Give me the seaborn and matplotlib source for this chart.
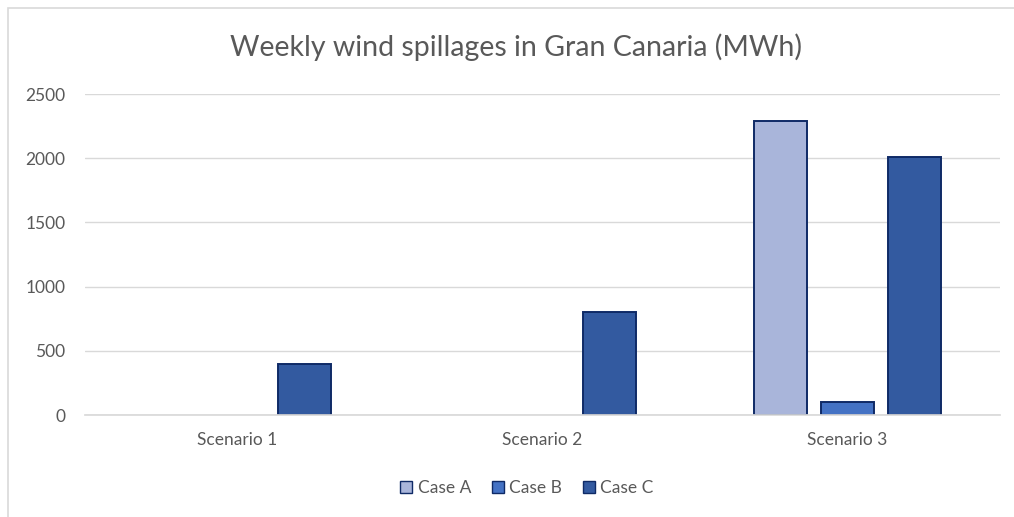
import matplotlib
matplotlib.use("Agg")
import matplotlib.pyplot as plt
import seaborn as sns
import pandas as pd
from matplotlib.patches import Rectangle

# values (MWh)
scenarios = ["Scenario 1", "Scenario 2", "Scenario 3"]
cases = ["Case A", "Case B", "Case C"]
case_a = [0, 0, 2290]
case_b = [0, 0, 100]
case_c = [400, 800, 2010]

colors = ["#A9B5DA", "#4472C4", "#335AA0"]
edge = "#0F2A66"
grey_text = "#595959"

df = pd.DataFrame({
    "scenario": scenarios * 3,
    "case": [c for c in cases for _ in scenarios],
    "value": case_a + case_b + case_c,
})

sns.set_theme(style="white")
plt.rcParams["font.family"] = ["Lato", "DejaVu Sans"]

fig = plt.figure(figsize=(10.14, 5.17), dpi=100)
ax = fig.add_axes([85 / 1014, 102 / 517, 915 / 1014, 321 / 517])

# light frame around the chart area
fig.patches.append(Rectangle((8 / 1014, -0.05), 1.2, 1 - 8 / 517 + 0.05,
                             transform=fig.transFigure, fill=False,
                             edgecolor="#D9D9D9", linewidth=1.2))

sns.barplot(data=df, x="scenario", y="value", hue="case", hue_order=cases,
            palette=colors, saturation=1, width=0.66, gap=0.21,
            edgecolor=edge, linewidth=1.4, ax=ax, legend=False)

# zero-height bars leave no outline in the original
for p in ax.patches:
    if p.get_height() == 0:
        p.set_linewidth(0)

ax.set_ylim(0, 2500)
ax.set_yticks(range(0, 2501, 500))
ax.set_xlim(-0.5, 2.5)
ax.grid(axis="y", color="#D9D9D9", linewidth=1)
ax.set_axisbelow(True)
for s in ["top", "right", "left"]:
    ax.spines[s].set_visible(False)
ax.spines["bottom"].set_color("#D9D9D9")
ax.tick_params(axis="both", length=0, labelsize=12.5, labelcolor=grey_text)
ax.tick_params(axis="y", pad=14)
ax.tick_params(axis="x", pad=12)
ax.set_xlabel("")
ax.set_ylabel("")

fig.text(516 / 1014, 1 - 47 / 517, "Weekly wind spillages in Gran Canaria (MWh)",
         ha="center", va="center", fontsize=20.5, color=grey_text)

handles = [Rectangle((0, 0), 1, 1, facecolor=c, edgecolor=edge, linewidth=1)
           for c in colors]
fig.legend(handles, cases, loc="center", bbox_to_anchor=(527 / 1014, 1 - 488 / 517),
           ncol=3, frameon=False, fontsize=12.5, labelcolor=grey_text,
           handlelength=0.7, handleheight=0.7, handletextpad=0.3,
           columnspacing=1.2)

fig.savefig("out.png", dpi=100, facecolor="white")
